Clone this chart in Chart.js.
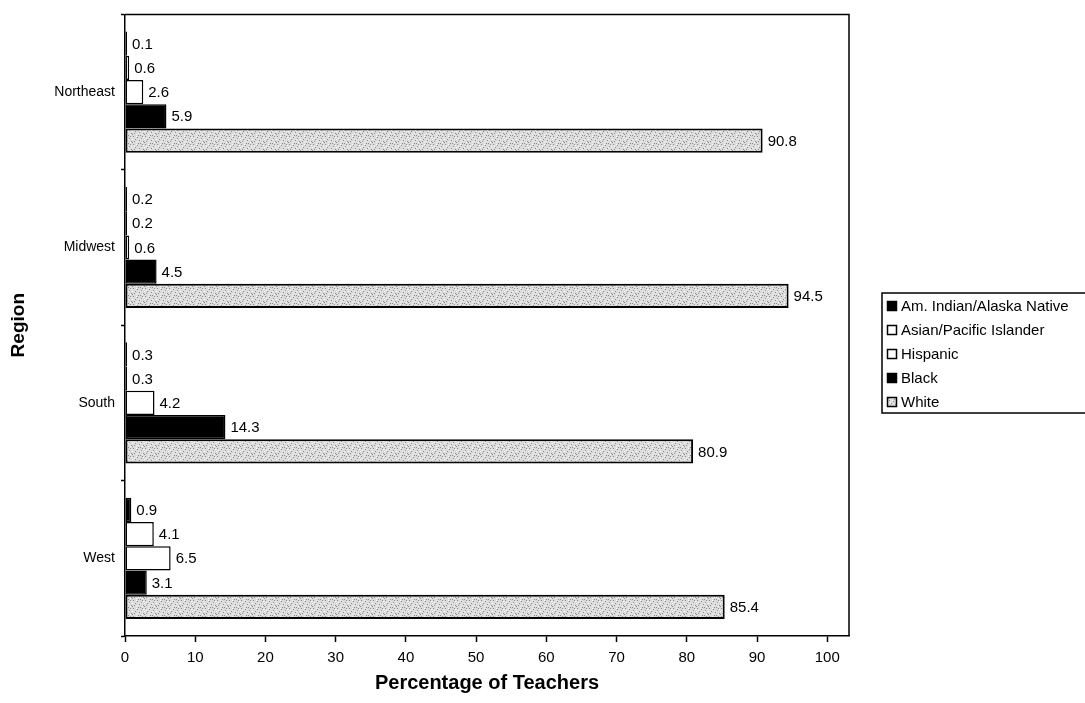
<!DOCTYPE html>
<html>
<head>
<meta charset="utf-8">
<title>Teachers by Race/Ethnicity and Region</title>
<script src="https://cdn.jsdelivr.net/npm/chart.js@4.4.0/dist/chart.umd.min.js"></script>
<style>
  html, body { margin: 0; padding: 0; background: #fff; }
  #wrap { width: 1085px; height: 703px; }
</style>
</head>
<body>
<div id="wrap"><canvas id="teachers" width="1085" height="703"></canvas></div>
<script>
// percentages of teachers per region, one array per group
const regions = ['Northeast', 'Midwest', 'South', 'West'];
const amIndian = [0.1, 0.2, 0.3, 0.9];
const asianPacific = [0.6, 0.2, 0.3, 4.1];
const hispanic = [2.6, 0.6, 4.2, 6.5];
const black = [5.9, 4.5, 14.3, 3.1];
const white = [90.8, 94.5, 80.9, 85.4];
const xTickValues = [0, 10, 20, 30, 40, 50, 60, 70, 80, 90, 100];

const FONT = '"Liberation Sans", Arial, Helvetica, sans-serif';
Chart.defaults.font.family = FONT;
Chart.defaults.color = '#000';

const ctx = document.getElementById('teachers').getContext('2d');

// speckled grey fill for the White bars
function stipple() {
  const c = document.createElement('canvas');
  c.width = 12;
  c.height = 8;
  const g = c.getContext('2d');
  g.fillStyle = '#dcdcdc';
  g.fillRect(0, 0, 12, 8);
  g.fillStyle = '#8e8e8e';
  [[1, 0], [5, 1], [9, 2], [3, 3], [7, 4], [11, 5], [0, 6], [6, 7], [2, 5], [10, 0], [8, 7]]
    .forEach(([x, y]) => g.fillRect(x, y, 1, 1));
  g.fillStyle = '#f6f6f6';
  [[4, 0], [8, 3], [2, 2], [10, 6], [6, 5], [0, 3], [11, 1], [4, 6]]
    .forEach(([x, y]) => g.fillRect(x, y, 1, 1));
  return ctx.createPattern(c, 'repeat');
}
const greyFill = stipple();

// value printed at the end of every bar
const valueLabels = {
  id: 'valueLabels',
  afterDatasetsDraw(chart) {
    const c = chart.ctx;
    c.save();
    c.font = '15px ' + FONT;
    c.fillStyle = '#000';
    c.textBaseline = 'middle';
    chart.data.datasets.forEach((ds, i) => {
      chart.getDatasetMeta(i).data.forEach((bar, j) => {
        c.fillText(ds.data[j].toFixed(1), bar.x + 5, bar.y + 1);
      });
    });
    c.restore();
  }
};

// top and right edges of the plot frame
const plotFrame = {
  id: 'plotFrame',
  afterDraw(chart) {
    const { left, top, right, bottom } = chart.chartArea;
    const c = chart.ctx;
    c.save();
    c.strokeStyle = '#000';
    c.lineWidth = 1.5;
    c.beginPath();
    c.moveTo(left, top);
    c.lineTo(right, top);
    c.lineTo(right, bottom);
    c.stroke();
    c.restore();
  }
};

// boxed legend to the right of the plot
const sideLegend = {
  id: 'sideLegend',
  afterDraw(chart) {
    const c = chart.ctx;
    const x = 882, y = 293, h = 120;
    c.save();
    c.strokeStyle = '#000';
    c.lineWidth = 1.5;
    c.strokeRect(x, y, 220, h);
    c.font = '15px ' + FONT;
    c.textBaseline = 'middle';
    chart.data.datasets.forEach((ds, i) => {
      const cy = 306 + i * 24;
      c.fillStyle = ds.backgroundColor;
      c.fillRect(x + 5, cy - 5, 10, 10);
      c.lineWidth = 1.5;
      c.strokeRect(x + 5.5, cy - 4.5, 9, 9);
      c.fillStyle = '#000';
      c.fillText(ds.label, x + 19, cy + 1);
    });
    c.restore();
  }
};

new Chart(ctx, {
  type: 'bar',
  data: {
    labels: regions,
    datasets: [
      { label: 'Am. Indian/Alaska Native', data: amIndian, backgroundColor: '#000', borderColor: '#000' },
      { label: 'Asian/Pacific Islander', data: asianPacific, backgroundColor: '#fff', borderColor: '#000' },
      { label: 'Hispanic', data: hispanic, backgroundColor: '#fff', borderColor: '#000' },
      { label: 'Black', data: black, backgroundColor: '#000', borderColor: '#000' },
      { label: 'White', data: white, backgroundColor: greyFill, borderColor: '#000', borderWidth: 2 }
    ]
  },
  options: {
    indexAxis: 'y',
    responsive: false,
    animation: false,
    devicePixelRatio: 1,
    layout: { padding: { top: 13, right: 236, bottom: 0, left: 0 } },
    datasets: {
      bar: {
        categoryPercentage: 0.78,
        barPercentage: 1.0,
        borderWidth: 1.5,
        borderSkipped: false,
        minBarLength: 2
      }
    },
    plugins: {
      legend: { display: false },
      tooltip: { enabled: false }
    },
    scales: {
      x: {
        type: 'linear',
        min: 0,
        max: 103.1,
        afterBuildTicks: (s) => { s.ticks = xTickValues.map(v => ({ value: v })); },
        afterFit: (s) => { s.height = 67; },
        ticks: { font: { size: 15 }, color: '#000', padding: 7 },
        grid: { drawOnChartArea: false, tickLength: 6, color: '#000', tickWidth: 1.5 },
        border: { color: '#000', width: 1.5 },
        title: {
          display: true,
          text: 'Percentage of Teachers',
          color: '#000',
          font: { size: 20, weight: 'bold' },
          padding: { top: 4, bottom: 8 }
        }
      },
      y: {
        afterFit: (s) => { s.width = 125; },
        ticks: { font: { size: 14 }, color: '#000', padding: 6 },
        grid: { offset: true, drawOnChartArea: false, tickLength: 4, color: '#000', tickWidth: 1.5 },
        border: { color: '#000', width: 1.5 },
        title: {
          display: true,
          text: 'Region',
          color: '#000',
          font: { size: 19, weight: 'bold' },
          padding: { top: 7, bottom: 0 }
        }
      }
    }
  },
  plugins: [valueLabels, plotFrame, sideLegend]
});
</script>
</body>
</html>
